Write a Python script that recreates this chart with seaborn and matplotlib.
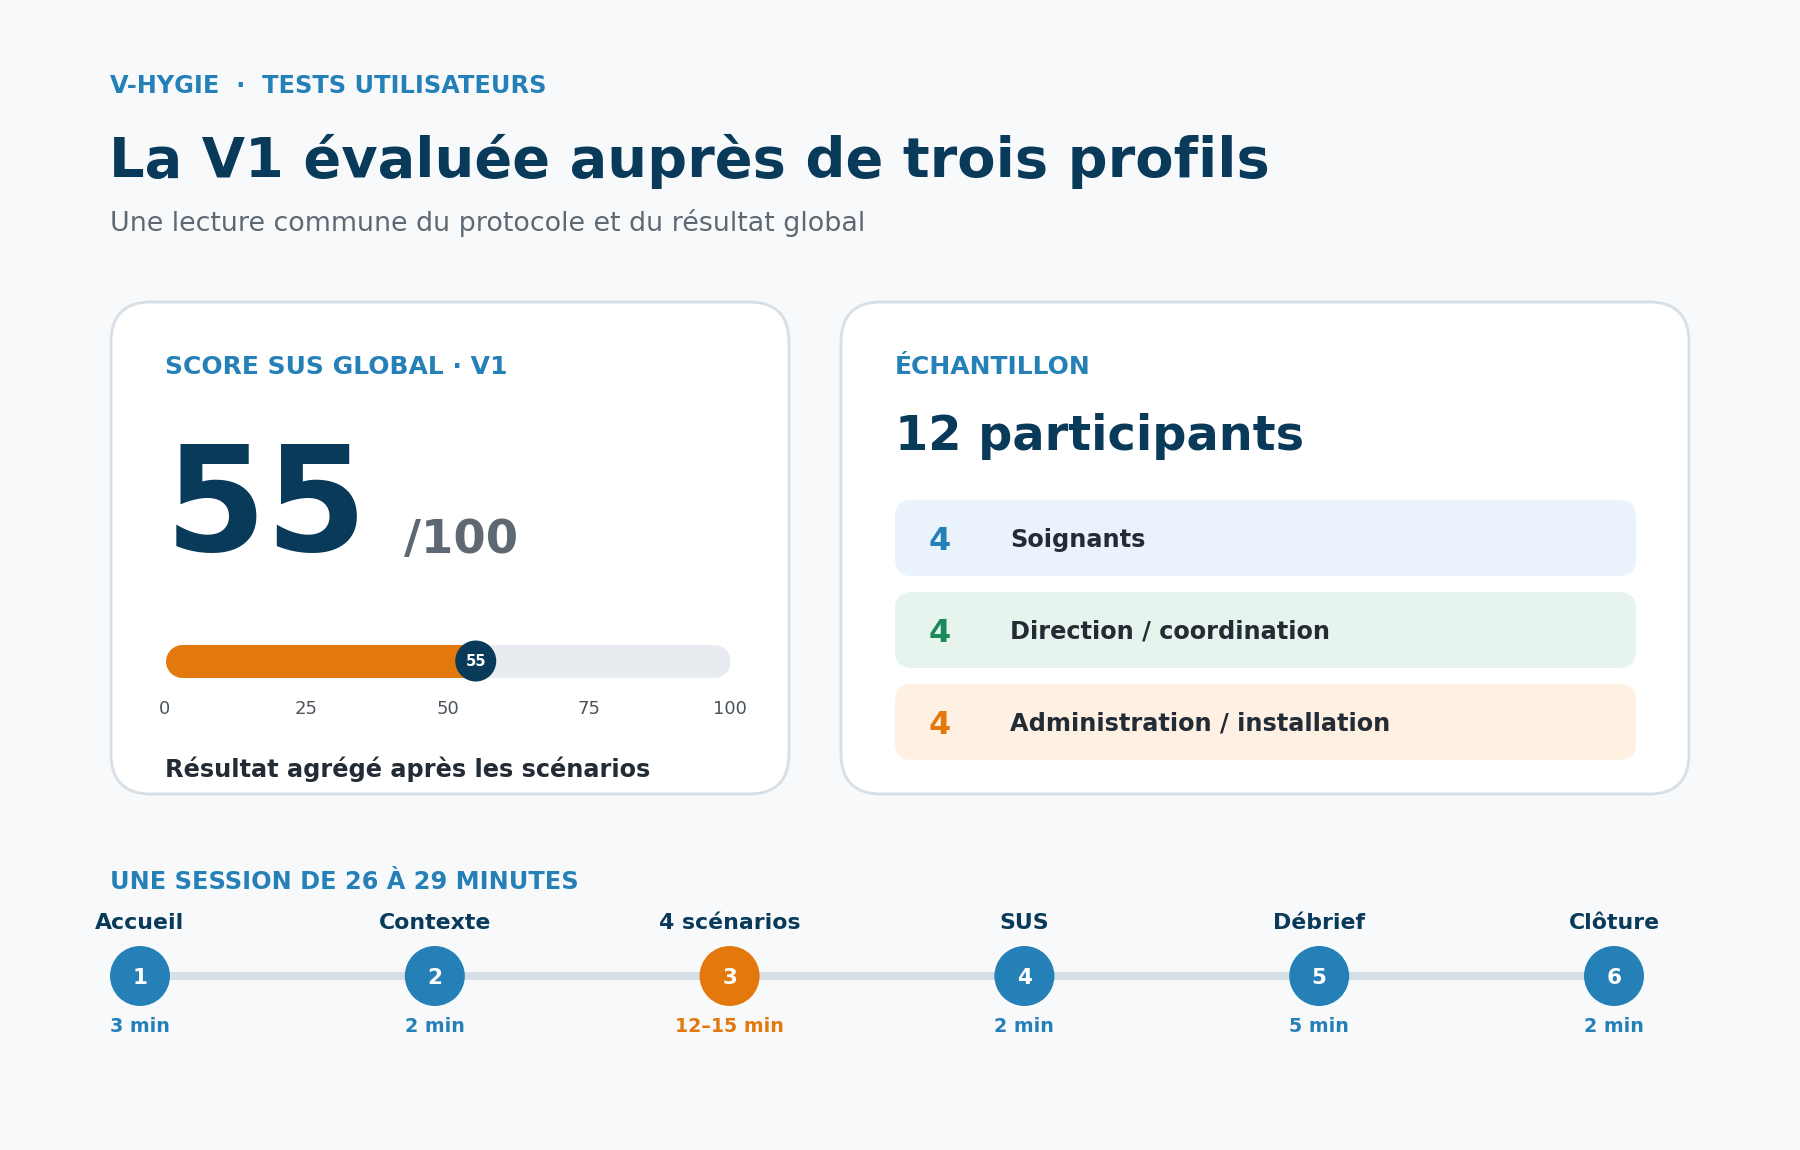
import matplotlib
matplotlib.use("Agg")
import matplotlib.pyplot as plt
from matplotlib.patches import FancyBboxPatch
import seaborn as sns
import pandas as pd

# ---------------- data ----------------
eyebrow = "V-HYGIE  ·  TESTS UTILISATEURS"
title = "La V1 évaluée auprès de trois profils"
subtitle = "Une lecture commune du protocole et du résultat global"

score_label = "SCORE SUS GLOBAL · V1"
sus_score = 55
sus_max = 100
gauge_ticks = [0, 25, 50, 75, 100]
score_caption = "Résultat agrégé après les scénarios"

sample_label = "ÉCHANTILLON"
sample_total = 12
group_counts = [4, 4, 4]
group_names = ["Soignants", "Direction / coordination", "Administration / installation"]

session_label = "UNE SESSION DE 26 À 29 MINUTES"
step_numbers = [1, 2, 3, 4, 5, 6]
step_names = ["Accueil", "Contexte", "4 scénarios", "SUS", "Débrief", "Clôture"]
step_durations = ["3 min", "2 min", "12–15 min", "2 min", "5 min", "2 min"]
step_highlight = [False, False, True, False, False, False]

# ---------------- style ----------------
BG = "#f7f9fb"
BLUE = "#2680b8"
NAVY = "#0a3a5a"
GREY = "#5d6872"
DARK = "#232c35"
ORANGE = "#e3790c"
GREEN = "#1b8a5a"
EDGE = "#d6dee6"
TRACK = "#e8ecf1"
ROW_FILLS = ["#eaf3fb", "#e7f4ed", "#fef1e3"]
ROW_NUM_COLORS = [BLUE, GREEN, ORANGE]

sns.set_theme(style="white")
plt.rcParams["font.family"] = ["DejaVu Sans"]

W, H = 1800, 1150
fig = plt.figure(figsize=(W / 100, H / 100), dpi=100, facecolor=BG)

ax = fig.add_axes([0, 0, 1, 1])
ax.set_xlim(0, W)
ax.set_ylim(H, 0)
ax.axis("off")
ax.set_facecolor(BG)


def pt(px):
    return px * 0.72


def card(x0, y0, x1, y1, r, fc, ec=None, lw=0):
    p = FancyBboxPatch((x0 + r, y0 + r), (x1 - x0) - 2 * r, (y1 - y0) - 2 * r,
                       boxstyle=f"round,pad={r},rounding_size={r}",
                       fc=fc, ec=ec if ec else fc, lw=lw, zorder=1)
    ax.add_patch(p)


# header
ax.text(110, 93, eyebrow, fontsize=17.3, fontweight="bold", color=BLUE, va="baseline")
ax.text(109, 177, title, fontsize=40.2, fontweight="bold", color=NAVY, va="baseline")
ax.text(110, 231, subtitle, fontsize=19.4, color=GREY, va="baseline")

# cards
card(111, 302, 789, 794, 40, "white", EDGE, 2)
card(841, 302, 1689, 794, 40, "white", EDGE, 2)

# left card content
ax.text(165, 374, score_label, fontsize=18, fontweight="bold", color=BLUE, va="baseline")
ax.text(165, 551, f"{sus_score}", fontsize=105, fontweight="bold", color=NAVY, va="baseline")
ax.text(404, 553, f"/{sus_max}", fontsize=33.5, fontweight="bold", color=GREY, va="baseline")
ax.text(165, 777, score_caption, fontsize=17.25, fontweight="bold", color=DARK, va="baseline")

# gauge axes (0..100)
gx0, gx1, gy0, gy1 = 165, 730, 630, 730
gax = fig.add_axes([gx0 / W, 1 - gy1 / H, (gx1 - gx0) / W, (gy1 - gy0) / H])
gax.set_xlim(0, sus_max)
gax.set_ylim(gy1, gy0)
gax.axis("off")
gax.patch.set_alpha(0)
bar_y = 661
bar_h = 33
r_units = (bar_h / 2) / (gx1 - gx0) * sus_max
gax.plot([gauge_ticks[0] + r_units, gauge_ticks[-1] - r_units], [bar_y, bar_y],
         lw=pt(bar_h), color=TRACK, solid_capstyle="round", zorder=1)
gax.plot([gauge_ticks[0] + r_units, sus_score], [bar_y, bar_y],
         lw=pt(bar_h), color=ORANGE, solid_capstyle="round", zorder=2)
sns.scatterplot(x=[sus_score], y=[bar_y], ax=gax, s=pt(41) ** 2, color=NAVY,
                edgecolor="none", zorder=3, legend=False)
gax.text(sus_score, bar_y + 5, f"{sus_score}", fontsize=10.5, fontweight="bold",
         color="white", ha="center", va="baseline", zorder=4)
for t in gauge_ticks:
    gax.text(t, 714, f"{t}", fontsize=13, color="#4a545e", ha="center", va="baseline")

# right card content
ax.text(895, 374, sample_label, fontsize=18, fontweight="bold", color=BLUE, va="baseline")
ax.text(895, 450, f"{sample_total} participants", fontsize=34.5, fontweight="bold",
        color=NAVY, va="baseline")
row_top, row_h, row_gap = 500, 76, 16
for i, (n, name) in enumerate(zip(group_counts, group_names)):
    y0 = row_top + i * (row_h + row_gap)
    card(895, y0, 1636, y0 + row_h, 17, ROW_FILLS[i])
    yc = y0 + row_h / 2
    ax.text(940, yc + 11.5, f"{n}", fontsize=23, fontweight="bold",
            color=ROW_NUM_COLORS[i], ha="center", va="baseline", zorder=3)
    ax.text(1010, yc + 8.5, name, fontsize=17.25, fontweight="bold", color=DARK,
            va="baseline", zorder=3)

# timeline
ax.text(110, 889, session_label, fontsize=17.3, fontweight="bold", color=BLUE, va="baseline")
tx0, tx1, ty0, ty1 = 140, 1614, 900, 1060
tax = fig.add_axes([tx0 / W, 1 - ty1 / H, (tx1 - tx0) / W, (ty1 - ty0) / H])
tax.set_xlim(0, len(step_numbers) - 1)
tax.set_ylim(ty1, ty0)
tax.axis("off")
tax.patch.set_alpha(0)
line_y = 976
tax.plot([0, len(step_numbers) - 1], [line_y, line_y], lw=pt(8), color=EDGE,
         zorder=1, solid_capstyle="butt")
steps = pd.DataFrame({
    "pos": list(range(len(step_numbers))),
    "y": [line_y] * len(step_numbers),
    "kind": ["hl" if h else "std" for h in step_highlight],
})
sns.scatterplot(data=steps, x="pos", y="y", hue="kind",
                palette={"hl": ORANGE, "std": BLUE}, s=pt(60) ** 2,
                edgecolor="none", ax=tax, legend=False, zorder=3, clip_on=False)
for i, (num, name, dur, hl) in enumerate(zip(step_numbers, step_names,
                                              step_durations, step_highlight)):
    c = ORANGE if hl else BLUE
    tax.text(i, line_y + 7.5, f"{num}", fontsize=15.5, fontweight="bold", color="white",
             ha="center", va="baseline", zorder=4, clip_on=False)
    tax.text(i, 929, name, fontsize=15.8, fontweight="bold", color=NAVY,
             ha="center", va="baseline", clip_on=False)
    tax.text(i, 1032, dur, fontsize=13.7, fontweight="bold", color=c,
             ha="center", va="baseline", clip_on=False)

fig.savefig("out.png", dpi=100, facecolor=BG)
